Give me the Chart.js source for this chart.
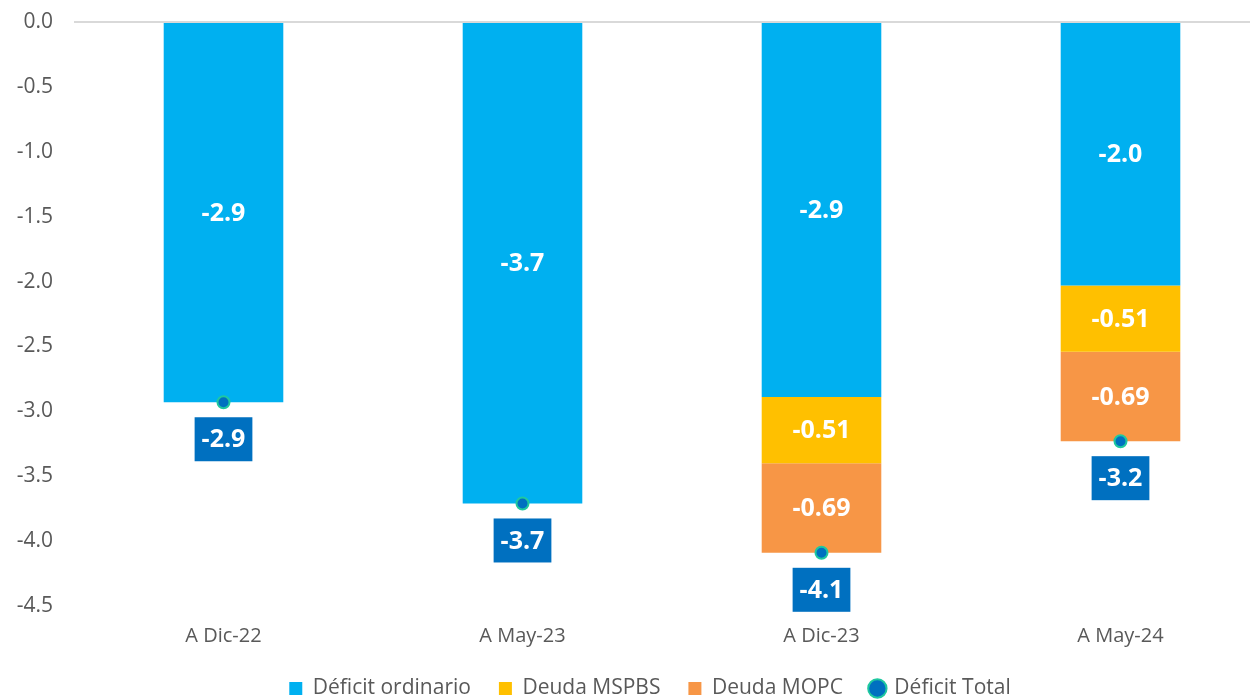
<!DOCTYPE html>
<html>
<head>
<meta charset="utf-8">
<script src="https://cdn.jsdelivr.net/npm/chart.js@4"></script>
<style>
  html, body { margin: 0; padding: 0; background: #fff; overflow: hidden; }
  #caja { width: 1278px; height: 699px; position: relative; }
</style>
</head>
<body>
<div id="caja"><canvas id="grafico"></canvas></div>
<script>
const categorias = ["A Dic-22", "A May-23", "A Dic-23", "A May-24"];
const deficitOrdinario = [-2.93, -3.71, -2.89, -2.03];
const deudaMSPBS = [null, null, -0.51, -0.51];
const deudaMOPC = [null, null, -0.69, -0.69];
const deficitTotal = [-2.93, -3.71, -4.09, -3.23];
const ticksY = [0, -0.5, -1.0, -1.5, -2.0, -2.5, -3.0, -3.5, -4.0, -4.5];

const fuente = "'Open Sans', Lato, sans-serif";
const gris = "#595959";

// etiquetas dentro de las barras y cajas del total
const etiquetas = {
    id: "etiquetas",
    afterDatasetsDraw(chart) {
        const ctx = chart.ctx;
        ctx.save();
        ctx.textAlign = "center";
        ctx.textBaseline = "middle";
        ctx.font = "bold 25px " + fuente;
        chart.data.datasets.forEach((ds, i) => {
            const meta = chart.getDatasetMeta(i);
            meta.data.forEach((el, j) => {
                const v = ds.data[j];
                if (v === null || v === undefined) return;
                if (ds.type === "line") {
                    const txt = v.toFixed(1);
                    const w = ctx.measureText(txt).width + 14;
                    const h = 44;
                    const cy = el.y + 37;
                    ctx.fillStyle = "#0070C0";
                    ctx.fillRect(el.x - w / 2, cy - h / 2, w, h);
                    ctx.fillStyle = "#fff";
                    ctx.fillText(txt, el.x, cy + 1);
                } else {
                    const txt = i === 0 ? v.toFixed(1) : v.toFixed(2);
                    const cy = (el.y + el.base) / 2;
                    ctx.fillStyle = "#fff";
                    ctx.fillText(txt, el.x, cy + 1);
                }
            });
        });
        ctx.restore();
    }
};

// leyenda un poco mas baja y corrida a la derecha
const ajusteLeyenda = {
    id: "ajusteLeyenda",
    afterInit(chart) {
        const lg = chart.legend;
        const fitOriginal = lg.fit;
        lg.fit = function () {
            fitOriginal.call(this);
            this.height = 49;
        };
    },
    afterLayout(chart) {
        chart.legend.left += 12;
        chart.legend.right += 12;
    }
};

new Chart(document.getElementById("grafico"), {
    type: "bar",
    data: {
        labels: categorias,
        datasets: [
            { label: "Déficit ordinario", data: deficitOrdinario, backgroundColor: "#00B0F0", stack: "a", order: 1 },
            { label: "Deuda MSPBS", data: deudaMSPBS, backgroundColor: "#FFC000", stack: "a", order: 1 },
            { label: "Deuda MOPC", data: deudaMOPC, backgroundColor: "#F79646", stack: "a", order: 1 },
            {
                type: "line", label: "Déficit Total", data: deficitTotal, stack: "t", order: 0,
                showLine: false, pointRadius: 6, pointHoverRadius: 6,
                pointBackgroundColor: "#0070C0", pointBorderColor: "#1FC8A0", pointBorderWidth: 2,
                backgroundColor: "#0070C0", borderColor: "#1FC8A0"
            }
        ]
    },
    options: {
        responsive: true,
        maintainAspectRatio: false,
        animation: false,
        layout: { padding: { top: 22, right: 2, bottom: 0, left: 0 } },
        datasets: { bar: { barPercentage: 0.4, categoryPercentage: 1.0 } },
        scales: {
            x: {
                stacked: true,
                afterFit: s => { s.height = 44; },
                grid: { display: false, drawTicks: false },
                border: { display: false },
                ticks: { color: gris, font: { family: fuente, size: 20 }, padding: 18 }
            },
            y: {
                stacked: true,
                min: -4.5,
                max: 0,
                afterFit: s => { s.width = 74; s.paddingTop = 0; s.paddingBottom = 0; },
                afterBuildTicks: s => { s.ticks = ticksY.map(v => ({ value: v })); },
                grid: {
                    drawTicks: false,
                    color: c => c.tick && c.tick.value === 0 ? "#D9D9D9" : "rgba(0,0,0,0)",
                    lineWidth: 2
                },
                border: { display: false },
                ticks: {
                    color: gris, padding: 21,
                    font: { family: fuente, size: 21 },
                    callback: v => Number(v).toFixed(1)
                }
            }
        },
        plugins: {
            tooltip: { enabled: false },
            legend: {
                position: "bottom",
                labels: {
                    color: gris,
                    font: { family: fuente, size: 21 },
                    usePointStyle: true,
                    boxWidth: 13, boxHeight: 13,
                    padding: 28,
                    sort: (a, b) => a.datasetIndex - b.datasetIndex,
                    generateLabels: chart => {
                        const items = Chart.defaults.plugins.legend.labels.generateLabels(chart);
                        items.forEach(it => {
                            it.pointStyle = it.datasetIndex === 3 ? "circle" : "rect";
                            it.lineWidth = it.datasetIndex === 3 ? 2 : 0;
                        });
                        return items;
                    }
                }
            }
        }
    },
    plugins: [etiquetas, ajusteLeyenda]
});
</script>
</body>
</html>
